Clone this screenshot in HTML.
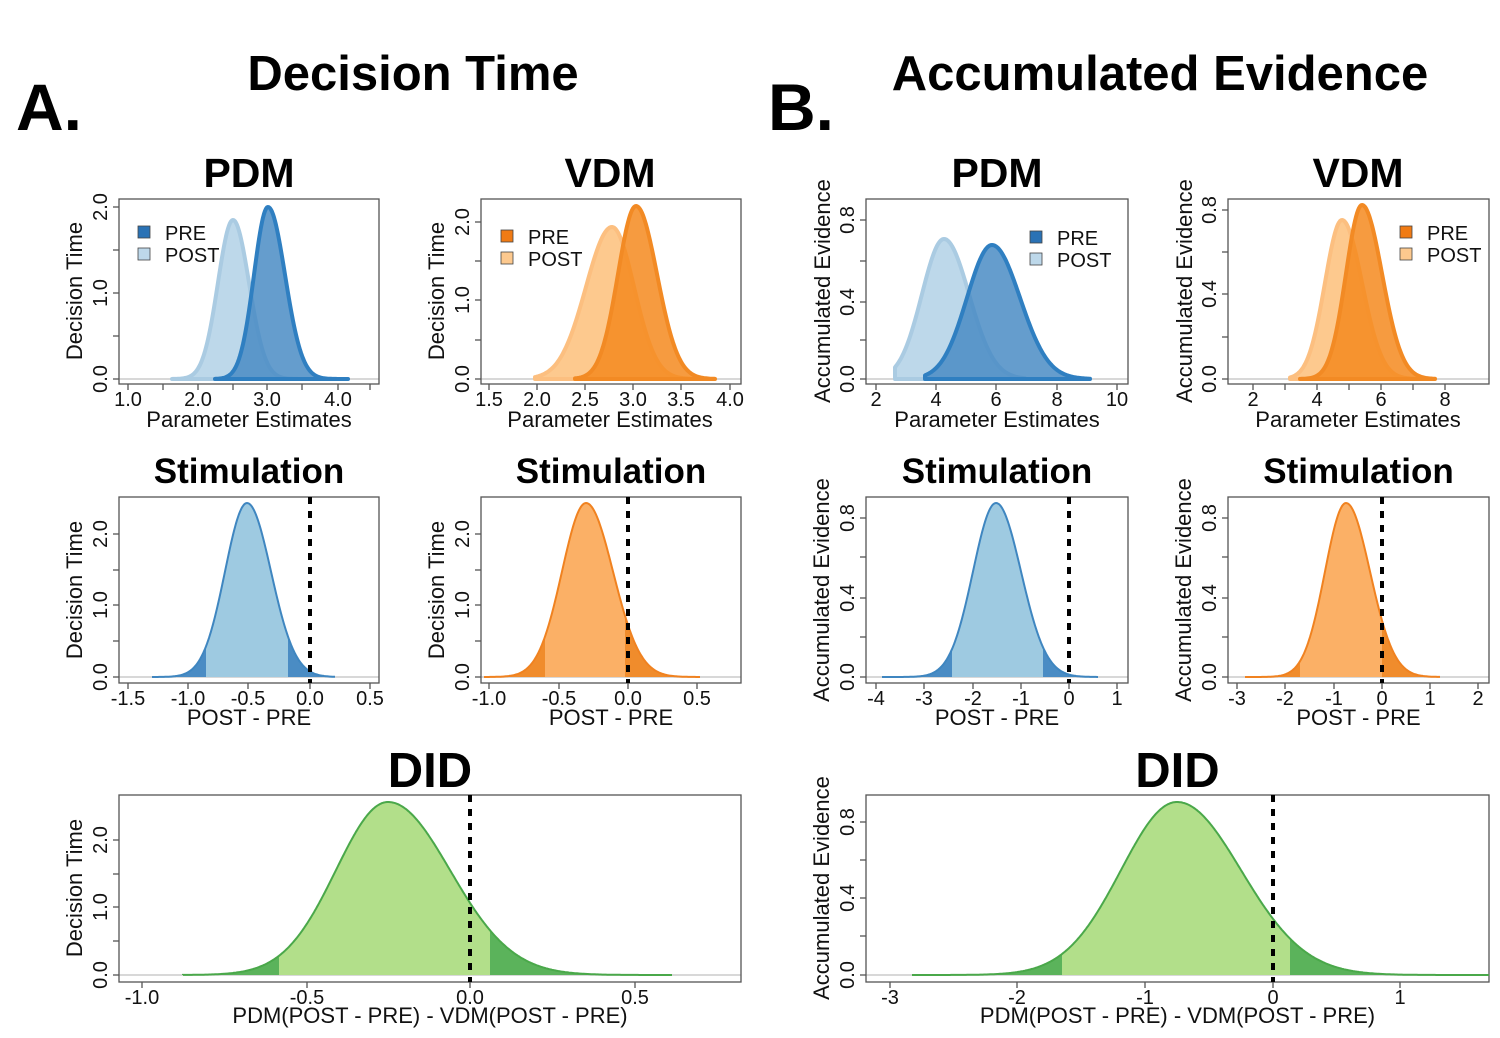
<!DOCTYPE html>
<html><head><meta charset="utf-8"><style>
body{margin:0;background:#fff}
svg{display:block;font-family:"Liberation Sans",sans-serif}
</style></head><body>
<svg id="s" width="1500" height="1038" viewBox="0 0 1500 1038" xmlns="http://www.w3.org/2000/svg"></svg>
<script>
const S=document.getElementById('s');let h='';
function t(x,y,s,sz,o){o=o||{};h+=`<text x="${x}" y="${y}" font-size="${sz}" ${o.b?'font-weight="bold"':''} text-anchor="${o.a||'middle'}" fill="${o.c||'#111'}" ${o.r?`transform="rotate(-90 ${x} ${y})"`:''}>${s}</text>`;}
function g(x,c,sl,sr){const sd=x<c?sl:sr;return Math.exp(-0.5*((x-c)/sd)**2);}
function path(c,sl,sr,py,base,x0,x1){let d=`M${x0},${base}`;for(let x=x0;x<=x1;x+=1){d+=` L${x},${(base-(base-py)*g(x,c,sl,sr)).toFixed(1)}`;}d+=` L${x1},${base} Z`;return d;}
function box(x0,y0,x1,y1,base){h+=`<line x1="${x0}" y1="${base}" x2="${x1}" y2="${base}" stroke="#ccc" stroke-width="1.5"/>`;h+=`<rect x="${x0}" y="${y0}" width="${x1-x0}" height="${y1-y0}" fill="none" stroke="#555" stroke-width="1.3"/>`;}
function xt(x0,ticks,y1,labs){ticks.forEach(x=>h+=`<line x1="${x}" y1="${y1}" x2="${x}" y2="${y1+6}" stroke="#555" stroke-width="1.3"/>`);labs.forEach(l=>t(l[0],y1+22,l[1],20));}
function yt(x0,ticks,labs){ticks.forEach(y=>h+=`<line x1="${x0}" y1="${y}" x2="${x0-6}" y2="${y}" stroke="#555" stroke-width="1.3"/>`);labs.forEach(l=>t(x0-12,l[0],l[1],20,{r:1}));}
function curve(c,sl,sr,py,base,x0,x1,fill,stroke,sw,op){h+=`<path d="${path(c,sl,sr,py,base,x0,x1)}" fill="${fill}" fill-opacity="${op||1}" stroke="${stroke}" stroke-width="${sw}" stroke-linejoin="round"/>`;}
function ci(c,sl,sr,py,base,x0,x1,lo,hi,dark,light,stroke,sw){
 h+=`<path d="${path(c,sl,sr,py,base,x0,x1)}" fill="${dark}" stroke="none"/>`;
 h+=`<path d="${path(c,sl,sr,py,base,lo,hi)}" fill="${light}" stroke="none"/>`;
 let d=`M${x0},${base}`;for(let x=x0;x<=x1;x++)d+=` L${x},${(base-(base-py)*g(x,c,sl,sr)).toFixed(1)}`;
 h+=`<path d="${d}" fill="none" stroke="${stroke}" stroke-width="${sw}"/>`;}
function dash(x,y0,y1){h+=`<line x1="${x}" y1="${y0}" x2="${x}" y2="${y1}" stroke="#000" stroke-width="4" stroke-dasharray="7,7"/>`;}
function leg(x,y,c1,c2,l1,l2){h+=`<rect x="${x}" y="${y-7}" width="12" height="12" fill="${c1}" stroke="#444" stroke-width="0.8"/><rect x="${x}" y="${y+15}" width="12" height="12" fill="${c2}" stroke="#444" stroke-width="0.8"/>`;t(x+27,y+7,l1,20,{a:'start'});t(x+27,y+29,l2,20,{a:'start'});}
t(413,90,'Decision Time',49,{b:1,c:'#000'});t(1160,90,'Accumulated Evidence',49,{b:1,c:'#000'});
t(16,130,'A.',66,{b:1,a:'start',c:'#000'});t(768,130,'B.',66,{b:1,a:'start',c:'#000'});
const BL='#2f7fc1',BD='#4a8cc4',BLt='#bdd8ea',BS='#aacbe2',OR='#f4891f',ORL='#fdc98e';
t(249,187,'PDM',41,{b:1,c:'#000'});
box(119,199,379,384,379);
curve(233,15,16,220,379,172,300,BLt,BS,4,1);
curve(268,14,17,207,379,215,348,BD,BL,4,0.85);
xt(119,[128,163,198,233,267,302,338,370],384,[[128,'1.0'],[198,'2.0'],[267,'3.0'],[338,'4.0']]);
yt(119,[379,336,293,250,207],[[379,'0.0'],[293,'1.0'],[207,'2.0']]);
t(82,291,'Decision Time',22,{r:1});t(249,427,'Parameter Estimates',22);
leg(138,233,'#2a72b5',BLt,'PRE','POST');
t(610,187,'VDM',41,{b:1,c:'#000'});
box(481,199,741,384,379);
curve(612,26,22,227,379,535,705,ORL,'#fcbf80',4,1);
curve(636,18,21,206,379,575,715,OR,'#f28a24',4,0.85);
xt(481,[489,537,585,633,681,730],384,[[489,'1.5'],[537,'2.0'],[585,'2.5'],[633,'3.0'],[681,'3.5'],[730,'4.0']]);
yt(481,[379,340,300,261,222],[[379,'0.0'],[300,'1.0'],[222,'2.0']]);
t(444,291,'Decision Time',22,{r:1});t(610,427,'Parameter Estimates',22);
leg(501,237,'#f07b14',ORL,'PRE','POST');
t(997,187,'PDM',41,{b:1,c:'#000'});
box(866,199,1128,384,379);
curve(944,22,25,239,379,895,1025,BLt,BS,4,1);
curve(992,25,28,245,379,925,1090,BD,BL,4,0.85);
xt(866,[876,936,996,1057,1117],384,[[876,'2'],[936,'4'],[996,'6'],[1057,'8'],[1117,'10']]);
yt(866,[379,340,302,261,220],[[379,'0.0'],[302,'0.4'],[220,'0.8']]);
t(830,291,'Accumulated Evidence',22,{r:1});t(997,427,'Parameter Estimates',22);
leg(1030,238,'#2a72b5',BLt,'PRE','POST');
t(1358,187,'VDM',41,{b:1,c:'#000'});
box(1228,199,1489,384,379);
curve(1342,17,20,220,379,1290,1420,ORL,'#fcbf80',4,1);
curve(1362,16,20,205,379,1300,1435,OR,'#f28a24',4,0.85);
xt(1228,[1253,1285,1317,1349,1381,1413,1445],384,[[1253,'2'],[1317,'4'],[1381,'6'],[1445,'8']]);
yt(1228,[379,337,294,252,210],[[379,'0.0'],[294,'0.4'],[210,'0.8']]);
t(1192,291,'Accumulated Evidence',22,{r:1});t(1358,427,'Parameter Estimates',22);
leg(1400,233,'#f07b14',ORL,'PRE','POST');
const SB='#9ecae1',SBD='#4a8cc4',SBS='#3f86c0',SO='#fbb066',SOD='#f08c2c',SOS='#f08220';
function stim(bx0,bx1,c,sl,sr,x0,x1,lo,hi,dx,ticks,labs,ylabs,ylab,light,dark,st){
 t((bx0+bx1)/2,483,'Stimulation',35,{b:1,c:'#000'});
 box(bx0,497,bx1,683,677);
 ci(c,sl,sr,503,677,x0,x1,lo,hi,dark,light,st,2);
 dash(dx,497,683);
 xt(bx0,ticks,683,labs);
 yt(bx0,ylabs.t,ylabs.l);
 t(bx0-37,590,ylab,22,{r:1});t((bx0+bx1)/2,725,'POST - PRE',22);}
stim(119,379,247,22,24,152,335,206,288,310,[128,188,248,310,370],[[128,'-1.5'],[188,'-1.0'],[248,'-0.5'],[310,'0.0'],[370,'0.5']],{t:[677,641,605,570,534],l:[[677,'0.0'],[605,'1.0'],[534,'2.0']]},'Decision Time',SB,SBD,SBS);
stim(481,741,586,24,27,484,700,545,625,628,[489,559,628,697],[[489,'-1.0'],[559,'-0.5'],[628,'0.0'],[697,'0.5']],{t:[677,641,605,570,534],l:[[677,'0.0'],[605,'1.0'],[534,'2.0']]},'Decision Time',SO,SOD,SOS);
stim(866,1128,996,23,25,882,1098,952,1043,1069,[876,924,973,1021,1069,1117],[[876,'-4'],[924,'-3'],[973,'-2'],[1021,'-1'],[1069,'0'],[1117,'1']],{t:[677,637,598,557,518],l:[[677,'0.0'],[598,'0.4'],[518,'0.8']]},'Accumulated Evidence',SB,SBD,SBS);
stim(1228,1489,1346,21,24,1245,1440,1300,1382,1382,[1237,1285,1334,1382,1430,1478],[[1237,'-3'],[1285,'-2'],[1334,'-1'],[1382,'0'],[1430,'1'],[1478,'2']],{t:[677,637,598,557,518],l:[[677,'0.0'],[598,'0.4'],[518,'0.8']]},'Accumulated Evidence',SO,SOD,SOS);
const GL='#b2df8a',GD='#5bb35b',GS='#4aa84a';
function did(bx0,bx1,c,sl,sr,x0,x1,lo,hi,dx,ticks,labs,yl,ylab){
 t((bx0+bx1)/2,787,'DID',49,{b:1,c:'#000'});
 box(bx0,795,bx1,982,975);
 ci(c,sl,sr,802,975,x0,x1,lo,hi,GD,GL,GS,2);
 dash(dx,795,982);
 xt(bx0,ticks,982,labs);
 yt(bx0,yl.t,yl.l);
 t(bx0-37,888,ylab,22,{r:1});t((bx0+bx1)/2,1023,'PDM(POST - PRE) - VDM(POST - PRE)',22);}
did(119,741,388,52,62,183,672,279,490,470,[142,307,470,635],[[142,'-1.0'],[307,'-0.5'],[470,'0.0'],[635,'0.5']],{t:[975,941,907,874,840],l:[[975,'0.0'],[907,'1.0'],[840,'2.0']]},'Decision Time');
did(866,1489,1177,56,64,912,1489,1062,1290,1273,[890,1017,1145,1273,1400],[[890,'-3'],[1017,'-2'],[1145,'-1'],[1273,'0'],[1400,'1']],{t:[975,936,898,860,822],l:[[975,'0.0'],[898,'0.4'],[822,'0.8']]},'Accumulated Evidence');
S.innerHTML=h;
</script>
</body></html>
